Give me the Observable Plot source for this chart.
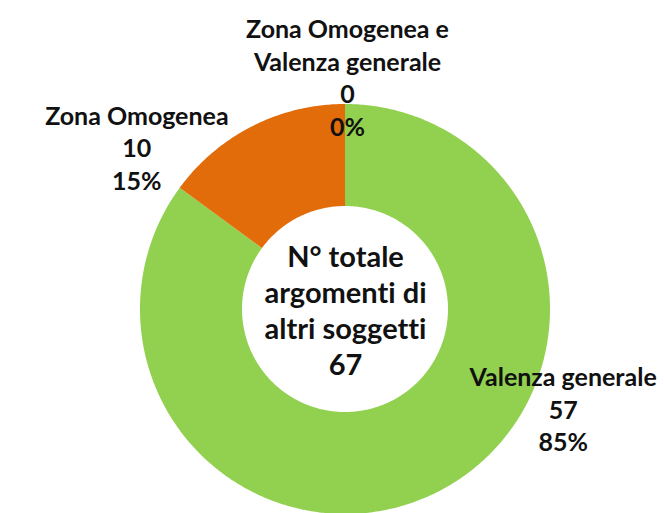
<!DOCTYPE html>
<html>
<head>
<meta charset="utf-8">
<script src="https://cdn.jsdelivr.net/npm/d3@7"></script>
<script src="https://cdn.jsdelivr.net/npm/@observablehq/plot@0.6"></script>
<style>
  html, body { margin: 0; padding: 0; background: #fff; }
  #chart svg { display: block; }
  #chart svg text { font-variant-ligatures: none; font-feature-settings: "liga" 0, "clig" 0; }
</style>
</head>
<body>
<div id="chart"></div>
<script>
// Data (series order as drawn clockwise from 12 o'clock)
const categories = ["Zona Omogenea e Valenza generale", "Valenza generale", "Zona Omogenea"];
const values = [0, 57, 10];
const percents = ["0%", "85%", "15%"];
const colors = ["#4472C4", "#92D050", "#E36C0A"];
const labelLines = [
  ["Zona Omogenea e", "Valenza generale"],
  ["Valenza generale"],
  ["Zona Omogenea"]
];
const centerLines = ["N° totale", "argomenti di", "altri soggetti"];

const total = d3.sum(values);
const W = 664, H = 513;
const cx = 345, cy = 309;          // donut centre in pixels
const R = 205, r = 103;            // outer / inner radius

const pie = d3.pie().sort(null).value(d => d.value);
const slices = pie(categories.map((c, i) => ({cat: c, value: values[i], i})));

// ring band points: outer edge (x1,y1) and inner edge (x2,y2)
const band = [];
for (const s of slices) {
  if (s.endAngle - s.startAngle <= 0) continue;
  const n = Math.max(2, Math.ceil((s.endAngle - s.startAngle) / 0.01));
  for (let k = 0; k <= n; k++) {
    const a = s.startAngle + (s.endAngle - s.startAngle) * k / n;
    band.push({
      cat: s.data.cat,
      x1: R * Math.sin(a), y1: -R * Math.cos(a),
      x2: r * Math.sin(a), y2: -r * Math.cos(a)
    });
  }
}

// label anchors at the outer edge of each slice's mid angle
const labels = slices.map(s => {
  const a = (s.startAngle + s.endAngle) / 2;
  return {
    cat: s.data.cat,
    x: R * Math.sin(a), y: -R * Math.cos(a),
    text: [...labelLines[s.data.i], String(values[s.data.i]), percents[s.data.i]].join("\n")
  };
});
const labelOffsets = {
  "Zona Omogenea e Valenza generale": {dx: 2, dy: -28},
  "Valenza generale": {dx: 125, dy: -84},
  "Zona Omogenea": {dx: -116, dy: 20}
};

const font = "Lato, 'Open Sans', sans-serif";
const textMarks = labels.map(l => Plot.text([l], {
  x: "x", y: "y", text: "text",
  dx: labelOffsets[l.cat].dx, dy: labelOffsets[l.cat].dy,
  fontSize: 25, fontWeight: "bold", fontFamily: font,
  lineHeight: 1.3, lineAnchor: "middle", textAnchor: "middle",
  fill: "#111"
}));

const plot = Plot.plot({
  width: W, height: H,
  margin: 0,
  x: {domain: [-cx, W - cx], range: [0, W], axis: null},
  y: {domain: [-cy, H - cy], range: [0, H], axis: null},
  color: {domain: categories, range: colors},
  style: {background: "#fff", overflow: "visible"},
  marks: [
    Plot.area(band, {x1: "x1", y1: "y1", x2: "x2", y2: "y2", z: "cat", fill: "cat", curve: "linear"}),
    ...textMarks,
    Plot.text([{t: [...centerLines, String(total)].join("\n")}], {
      x: () => 0, y: () => 0, text: "t",
      fontSize: 29, fontWeight: "bold", fontFamily: font,
      lineHeight: 1.24, lineAnchor: "middle", textAnchor: "middle",
      fill: "#111"
    })
  ]
});
document.getElementById("chart").appendChild(plot);
</script>
</body>
</html>
